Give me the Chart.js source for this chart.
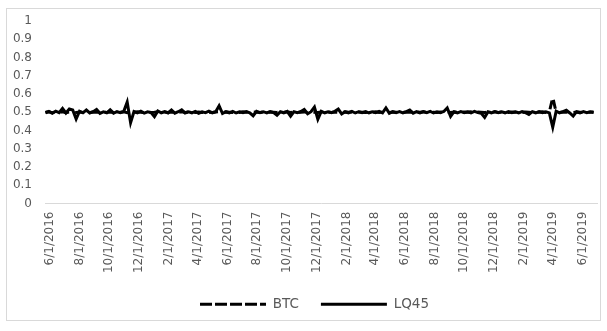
<!DOCTYPE html>
<html><head><meta charset="utf-8">
<script src="https://cdn.jsdelivr.net/npm/chart.js@4/dist/chart.umd.min.js"></script>
<style>html,body{margin:0;padding:0;background:#fff}#wrap{width:607px;height:331px;position:relative}</style>
</head><body><div id="wrap"><canvas id="c" width="607" height="331"></canvas></div>
<script>
const weeks = [
"2016-05-23","2016-05-30","2016-06-06","2016-06-13","2016-06-20","2016-06-27","2016-07-04","2016-07-11","2016-07-18","2016-07-25",
"2016-08-01","2016-08-08","2016-08-15","2016-08-22","2016-08-29","2016-09-05","2016-09-12","2016-09-19","2016-09-26","2016-10-03",
"2016-10-10","2016-10-17","2016-10-24","2016-10-31","2016-11-07","2016-11-14","2016-11-21","2016-11-28","2016-12-05","2016-12-12",
"2016-12-19","2016-12-26","2017-01-02","2017-01-09","2017-01-16","2017-01-23","2017-01-30","2017-02-06","2017-02-13","2017-02-20",
"2017-02-27","2017-03-06","2017-03-13","2017-03-20","2017-03-27","2017-04-03","2017-04-10","2017-04-17","2017-04-24","2017-05-01",
"2017-05-08","2017-05-15","2017-05-22","2017-05-29","2017-06-05","2017-06-12","2017-06-19","2017-06-26","2017-07-03","2017-07-10",
"2017-07-17","2017-07-24","2017-07-31","2017-08-07","2017-08-14","2017-08-21","2017-08-28","2017-09-04","2017-09-11","2017-09-18",
"2017-09-25","2017-10-02","2017-10-09","2017-10-16","2017-10-23","2017-10-30","2017-11-06","2017-11-13","2017-11-20","2017-11-27",
"2017-12-04","2017-12-11","2017-12-18","2017-12-25","2018-01-01","2018-01-08","2018-01-15","2018-01-22","2018-01-29","2018-02-05",
"2018-02-12","2018-02-19","2018-02-26","2018-03-05","2018-03-12","2018-03-19","2018-03-26","2018-04-02","2018-04-09","2018-04-16",
"2018-04-23","2018-04-30","2018-05-07","2018-05-14","2018-05-21","2018-05-28","2018-06-04","2018-06-11","2018-06-18","2018-06-25",
"2018-07-02","2018-07-09","2018-07-16","2018-07-23","2018-07-30","2018-08-06","2018-08-13","2018-08-20","2018-08-27","2018-09-03",
"2018-09-10","2018-09-17","2018-09-24","2018-10-01","2018-10-08","2018-10-15","2018-10-22","2018-10-29","2018-11-05","2018-11-12",
"2018-11-19","2018-11-26","2018-12-03","2018-12-10","2018-12-17","2018-12-24","2018-12-31","2019-01-07","2019-01-14","2019-01-21",
"2019-01-28","2019-02-04","2019-02-11","2019-02-18","2019-02-25","2019-03-04","2019-03-11","2019-03-18","2019-03-25","2019-04-01",
"2019-04-08","2019-04-15","2019-04-22","2019-04-29","2019-05-06","2019-05-13","2019-05-20","2019-05-27","2019-06-03","2019-06-10",
"2019-06-17","2019-06-24"
];
const lq45 = [
0.497,0.505,0.494,0.506,0.498,0.521,0.496,0.518,0.512,0.463,
0.506,0.497,0.512,0.496,0.503,0.515,0.494,0.502,0.497,0.513,
0.495,0.503,0.498,0.505,0.556,0.443,0.504,0.497,0.506,0.495,
0.502,0.498,0.476,0.507,0.497,0.503,0.496,0.512,0.495,0.503,
0.513,0.496,0.502,0.497,0.505,0.494,0.502,0.498,0.506,0.497,
0.503,0.535,0.493,0.503,0.497,0.505,0.496,0.502,0.498,0.504,
0.497,0.481,0.505,0.498,0.503,0.496,0.504,0.498,0.484,0.503,
0.497,0.505,0.478,0.503,0.498,0.504,0.515,0.492,0.503,0.528,
0.462,0.505,0.497,0.503,0.498,0.505,0.517,0.491,0.503,0.497,
0.505,0.496,0.503,0.498,0.504,0.497,0.503,0.498,0.505,0.497,
0.524,0.494,0.503,0.498,0.504,0.497,0.503,0.512,0.495,0.503,
0.497,0.504,0.498,0.505,0.496,0.503,0.498,0.504,0.523,0.477,
0.503,0.497,0.504,0.498,0.503,0.497,0.505,0.498,0.494,0.472,
0.503,0.497,0.504,0.498,0.503,0.497,0.504,0.498,0.503,0.497,
0.504,0.498,0.488,0.503,0.497,0.504,0.498,0.503,0.497,0.418,
0.506,0.497,0.503,0.511,0.496,0.479,0.503,0.497,0.504,0.498,
0.503,0.499
];
const btc = [
0.500,0.502,0.498,0.501,0.499,0.503,0.498,0.501,0.500,0.499,
0.501,0.499,0.502,0.498,0.501,0.500,0.499,0.502,0.499,0.501,
0.499,0.501,0.500,0.502,0.498,0.501,0.499,0.502,0.500,0.499,
0.501,0.499,0.500,0.502,0.498,0.501,0.499,0.501,0.500,0.499,
0.502,0.499,0.501,0.500,0.499,0.501,0.499,0.502,0.500,0.499,
0.501,0.503,0.499,0.501,0.500,0.499,0.501,0.499,0.502,0.500,
0.499,0.501,0.500,0.499,0.502,0.499,0.501,0.500,0.499,0.501,
0.500,0.502,0.499,0.501,0.499,0.500,0.502,0.499,0.501,0.500,
0.499,0.501,0.500,0.502,0.499,0.501,0.500,0.499,0.501,0.500,
0.502,0.499,0.501,0.500,0.499,0.501,0.500,0.502,0.499,0.501,
0.500,0.499,0.501,0.500,0.502,0.499,0.501,0.500,0.499,0.501,
0.500,0.502,0.499,0.501,0.500,0.499,0.501,0.500,0.502,0.499,
0.501,0.500,0.499,0.501,0.500,0.502,0.499,0.501,0.500,0.499,
0.501,0.500,0.502,0.499,0.501,0.500,0.499,0.501,0.500,0.502,
0.499,0.501,0.500,0.499,0.501,0.500,0.502,0.499,0.501,0.582,
0.500,0.499,0.501,0.500,0.502,0.499,0.501,0.500,0.499,0.501,
0.500,0.501
];
const tickLabels = ["6/1/2016","8/1/2016","10/1/2016","12/1/2016","2/1/2017","4/1/2017","6/1/2017","8/1/2017","10/1/2017","12/1/2017",
"2/1/2018","4/1/2018","6/1/2018","8/1/2018","10/1/2018","12/1/2018","2/1/2019","4/1/2019","6/1/2019"];
const axisStart = "2016-05-22", axisEnd = "2019-07-01";

const ORIGIN = Date.UTC(2016,5,1);
function isoDay(s){const p=s.split('-').map(Number);return (Date.UTC(p[0],p[1]-1,p[2])-ORIGIN)/86400000;}
function mdyDay(s){const p=s.split('/').map(Number);return (Date.UTC(p[2],p[0]-1,p[1])-ORIGIN)/86400000;}

const FONT = "'DejaVu Sans', sans-serif";
const GREY = '#595959';

const framePlugin = {
  id:'frame',
  afterLayout(chart){ if(chart.legend){chart.legend.left+=12; chart.legend.right+=12;} },
  beforeDraw(chart){const c=chart.ctx;c.save();c.fillStyle='#fff';c.fillRect(0,0,chart.width,chart.height);
    c.strokeStyle='#d9d9d9';c.lineWidth=1;c.strokeRect(6.5,8.5,594,312);c.restore();}
};

new Chart(document.getElementById('c'), {
  type:'line',
  data:{datasets:[
    {label:'BTC', data:weeks.map((d,i)=>({x:isoDay(d),y:btc[i]})), borderColor:'#000', backgroundColor:'rgba(0,0,0,0)',
     borderWidth:3, borderDash:[9,6], pointRadius:0, tension:0, order:2},
    {label:'LQ45', data:weeks.map((d,i)=>({x:isoDay(d),y:lq45[i]})), borderColor:'#000', backgroundColor:'#000',
     borderWidth:3, pointRadius:0, tension:0, order:1}
  ]},
  options:{
    responsive:false, animation:false, devicePixelRatio:1,
    layout:{padding:{top:21,bottom:10,left:8,right:10}},
    plugins:{
      tooltip:{enabled:false},
      legend:{position:'bottom',
        labels:{boxWidth:66,boxHeight:0,padding:22,color:GREY,
          font:{family:FONT,size:13.5},sort:(a,b)=>a.datasetIndex-b.datasetIndex}}
    },
    scales:{
      x:{type:'linear', min:isoDay(axisStart), max:isoDay(axisEnd),
        grid:{display:false,drawTicks:false}, border:{display:true,color:'#d9d9d9',width:1},
        afterBuildTicks(s){s.ticks=tickLabels.map(t=>({value:mdyDay(t)}));},
        afterFit(s){s.height=72;},
        ticks:{autoSkip:false,minRotation:90,maxRotation:90,padding:8,color:GREY,font:{family:FONT,size:12},
          callback:(v,i)=>tickLabels[i]}},
      y:{min:0,max:1,grid:{display:false,drawTicks:false},border:{display:false},
        afterFit(s){s.width=37;},
        ticks:{stepSize:0.1,padding:13,color:GREY,font:{family:FONT,size:12},
          callback:v=>String(+v.toFixed(1))}}
    }
  },
  plugins:[framePlugin]
});
</script></body></html>
